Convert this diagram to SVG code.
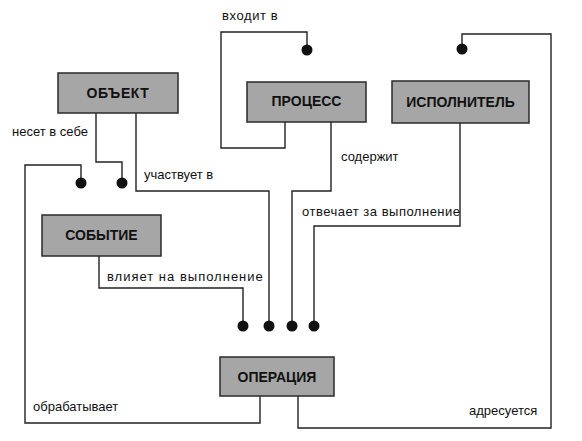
<svg xmlns="http://www.w3.org/2000/svg" width="582" height="441" viewBox="0 0 582 441">
<style>
.box{fill:#a6a6a6;stroke:#2a2a2a;stroke-width:1.5}
.nt{font-family:"Liberation Sans",Arial,sans-serif;font-size:14px;font-weight:bold;fill:#111;text-anchor:middle}
.lb{font-family:"Liberation Sans",Arial,sans-serif;font-size:13px;fill:#111}
.ln{fill:none;stroke:#222;stroke-width:1.4}
.dot{fill:#111}
</style>
<rect width="582" height="441" fill="#fff"/>
<g id="connectors">
<!-- ПРОЦЕСС входит в -->
<polyline class="ln" points="285,122 285,148 221,148 221,32 307,32 307,50"/>
<circle class="dot" cx="307" cy="50" r="5.5"/>
<!-- ИСПОЛНИТЕЛЬ адресуется -->
<polyline class="ln" points="462,49 462,34 551,34 551,428 298,428 298,396"/>
<circle class="dot" cx="462" cy="49" r="5.5"/>
<!-- ОБЪЕКТ несет в себе -->
<polyline class="ln" points="96,113 96,162 122,162 122,183"/>
<circle class="dot" cx="122" cy="183" r="5.5"/>
<!-- ОБЪЕКТ участвует в -->
<polyline class="ln" points="136,113 136,191 269,191 269,326"/>
<circle class="dot" cx="269" cy="326" r="5.5"/>
<!-- ОПЕРАЦИЯ обрабатывает -->
<polyline class="ln" points="81,183 81,165 25,165 25,423 260,423 260,396"/>
<circle class="dot" cx="81" cy="183" r="5.5"/>
<!-- ПРОЦЕСС содержит -->
<polyline class="ln" points="331,122 331,191 292,191 292,326"/>
<circle class="dot" cx="292" cy="326" r="5.5"/>
<!-- ИСПОЛНИТЕЛЬ отвечает за выполнение -->
<polyline class="ln" points="460,123 460,226 314,226 314,326"/>
<circle class="dot" cx="314" cy="326" r="5.5"/>
<!-- СОБЫТИЕ влияет на выполнение -->
<polyline class="ln" points="99,256 99,288 243,288 243,326"/>
<circle class="dot" cx="243" cy="326" r="5.5"/>
<text class="lb" x="222" y="20" letter-spacing="0.6">входит в</text>
<text class="lb" x="12" y="136">несет в себе</text>
<text class="lb" x="144" y="179">участвует в</text>
<text class="lb" x="341" y="161" font-size="12.5">содержит</text>
<text class="lb" x="302" y="216" letter-spacing="0.5">отвечает за выполнение</text>
<text class="lb" x="107" y="281" letter-spacing="1">влияет на выполнение</text>
<text class="lb" x="33" y="411" font-size="12.5">обрабатывает</text>
<text class="lb" x="469" y="415" font-size="12.5">адресуется</text>
</g>
<g id="object">
<rect class="box" x="58" y="73" width="120" height="40"/>
<text class="nt" x="118" y="98" letter-spacing="0.6">ОБЪЕКТ</text>
</g>
<g id="process">
<rect class="box" x="247" y="82" width="119" height="40"/>
<text class="nt" x="306.5" y="106">ПРОЦЕСС</text>
</g>
<g id="executor">
<rect class="box" x="392" y="81" width="137" height="42"/>
<text class="nt" x="460.5" y="107">ИСПОЛНИТЕЛЬ</text>
</g>
<g id="event">
<rect class="box" x="42" y="215" width="119" height="41"/>
<text class="nt" x="101.5" y="240">СОБЫТИЕ</text>
</g>
<g id="operation">
<rect class="box" x="220" y="357" width="114" height="39"/>
<text class="nt" x="277" y="381.5">ОПЕРАЦИЯ</text>
</g>
</svg>
